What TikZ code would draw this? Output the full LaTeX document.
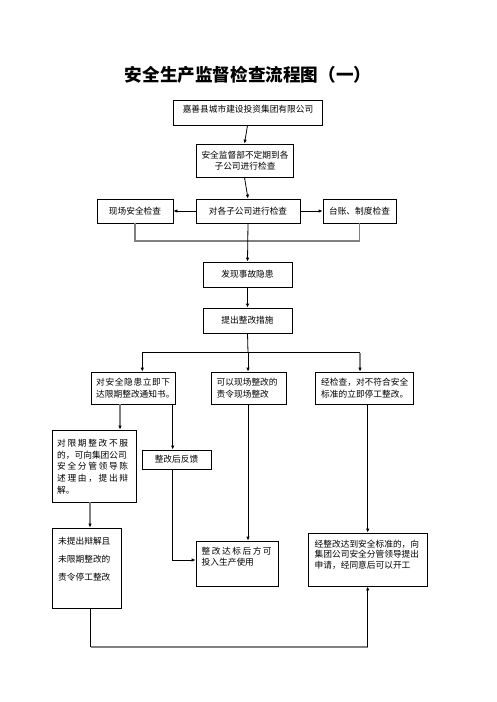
\documentclass[tikz,border=0pt]{standalone}
\usepackage{fontspec}
\setmainfont{Noto Sans CJK SC}
\usetikzlibrary{arrows.meta}
\newcommand\spr[2]{\makebox[#1][s]{#2}}
\newcommand\bx[5]{\node[box,minimum width={(#4-#2)*1pt},minimum height={(#5-#3)*1pt}] (#1) at ({(#2+#4)/2},{(#3+#5)/2}) {};}
\begin{document}
\begin{tikzpicture}[x=1pt,y=-1pt,
 box/.style={draw,line width=0.8pt,inner sep=0pt},
 txt/.style={inner sep=0pt,align=left,font=\fontsize{8.7}{11.6}\selectfont},
 ln/.style={line width=0.8pt},
 arr/.style={line width=0.8pt,-{Latex[length=4pt,width=3.5pt]}},
 gln/.style={line width=1.6pt,draw=black!50},
 garr/.style={gln,-{Latex[length=4pt,width=3.5pt,color=black]}}]
\useasboundingbox (0,0) rectangle (496,702);
\node[font=\fontsize{17.6}{20}\selectfont\bfseries,inner sep=0pt] (title) at (248,75) {安全生产监督检查流程图（一）};
% boxes
\bx{b1}{173}{100}{322}{125}
\bx{b2}{196}{144}{293}{177}
\bx{b3}{196}{199}{300}{223}
\bx{bl}{97}{199}{173}{223}
\bx{br}{323}{199}{396}{223}
\bx{b4}{203}{262}{292}{287}
\bx{b5}{203}{308}{292}{333}
\bx{bA}{91}{372}{175}{404}
\bx{bB}{211}{372}{286}{404}
\bx{bC}{315}{372}{413}{404}
\bx{bD}{52}{430}{136}{502}
\bx{bK}{142}{450}{211}{469}
\bx{bE}{52}{528}{121}{608}
\bx{bF}{196}{541}{278}{586}
\bx{bG}{308}{533}{427}{586}
% texts
\node[txt] (t1) at (248,109) {嘉善县城市建设投资集团有限公司};
\node[txt,align=center] (t2) at (245,160.5) {安全监督部不定期到各\\子公司进行检查};
\node[txt] (t3) at (248,211) {对各子公司进行检查};
\node[txt] (tl) at (135,211) {现场安全检查};
\node[txt] (tr) at (359.5,211) {台账、制度检查};
\node[txt] (t4) at (247.5,274.5) {发现事故隐患};
\node[txt] (t5) at (247.5,320.5) {提出整改措施};
\node[txt,anchor=west] (tA) at (96,388) {\spr{74pt}{对\hfill 安\hfill 全\hfill 隐\hfill 患\hfill 立\hfill 即\hfill 下}\\达限期整改通知书。};
\node[txt,anchor=west] (tB) at (216.5,388) {可以现场整改的\\责令现场整改};
\node[txt,anchor=west] (tC) at (321,388) {经检查，对不符合安全\\标准的立即停工整改。};
\node[txt,anchor=west,font=\fontsize{8.7}{11.8}\selectfont] (tD) at (57,466.5) {\spr{71pt}{对\hfill 限\hfill 期\hfill 整\hfill 改\hfill 不\hfill 服}\\的，可向集团公司\\\spr{71pt}{安\hfill 全\hfill 分\hfill 管\hfill 领\hfill 导\hfill 陈}\\\spr{71pt}{述\hfill 理\hfill 由\hfill ，\hfill 提\hfill 出\hfill 辩}\\解。};
\node[txt] (tK) at (176.5,459.5) {整改后反馈};
\node[txt,anchor=west,font=\fontsize{8.7}{17.8}\selectfont] (tE) at (58,559) {未提出辩解且\\未限期整改的\\责令停工整改};
\node[txt,anchor=west,font=\fontsize{8.7}{10.4}\selectfont] (tF) at (201.5,556.5) {\spr{70pt}{整\hfill 改\hfill 达\hfill 标\hfill 后\hfill 方\hfill 可}\\投入生产使用};
\node[txt,anchor=west,font=\fontsize{8.7}{10.4}\selectfont] (tG) at (314.5,554.5) {经整改达到安全标准的，向\\集团公司安全分管领导提出\\申请，经同意后可以开工};
% connectors
\draw[arr] (b1.south) -- (b2.north);
\draw[arr] (b2.south) -- (b3.north);
\draw[arr] (b3.west) -- (bl.east);
\draw[arr] (b3.east) -- (br.east -| br.west);
\coordinate (g1) at (135,240.7);
\draw[gln] (bl.south -| g1) -- (g1) -| (br.south);
\draw[arr] (b3.south) -- (b4.north);
\draw[arr] (b4.south) -- (b5.north);
\coordinate (j) at (248,352.7);
\coordinate (jl) at (142.3,352.7);
\coordinate (jr) at (360,352.7);
\draw[ln] (b5.south) -- (j);
\draw[ln] (jl) -- (jr);
\draw[arr] (jl) -- (bA.north -| jl);
\draw[arr] (j) -- (bB.north -| j);
\draw[garr] (jr) -- (bC.north -| jr);
\coordinate (a1) at (120,404);
\coordinate (a2) at (172.7,404);
\draw[garr] (a1) -- (bD.north -| a1);
\draw[arr] (a2) -- (bK.north -| a2);
\coordinate (k1) at (172.7,560);
\draw[arr] (bK.south -| k1) -- (k1) -- (bF.west |- k1);
\draw[arr] (bB.south -| j) -- (bF.north -| j);
\coordinate (c1) at (367.7,404);
\draw[arr] (c1) -- (bG.north -| c1);
\coordinate (d1) at (90,502);
\draw[garr] (d1) -- (bE.north -| d1);
\coordinate (e1) at (90.7,646.7);
\coordinate (e2) at (367.7,646.7);
\draw[gln] (e1) -- (e2);
\draw[ln] (bE.south -| e1) -- (e1);
\draw[arr] (e2) -- (bG.south -| e2);
\end{tikzpicture}
\end{document}
